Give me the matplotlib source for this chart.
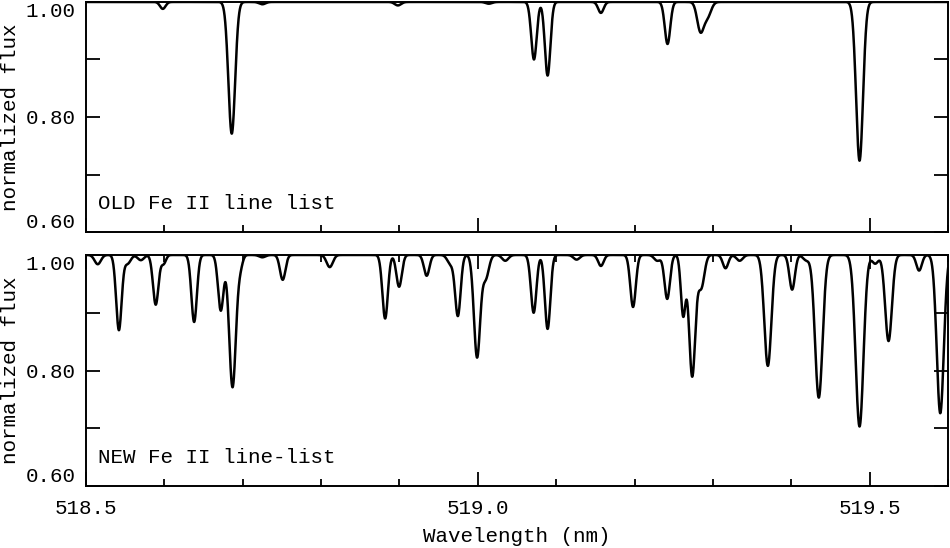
import numpy as np
import matplotlib
matplotlib.use('Agg')
import matplotlib.pyplot as plt
from matplotlib.ticker import MultipleLocator

# line lists: centre (nm), central depth, gaussian sigma (nm)
old_center = [518.598, 518.686, 518.725, 518.898, 519.014, 519.0716, 519.089,
              519.157, 519.242, 519.284, 519.293, 519.487]
old_depth = [0.012, 0.229, 0.004, 0.006, 0.003, 0.100, 0.128,
             0.019, 0.073, 0.050, 0.025, 0.276]
old_sigma = [0.0035, 0.0043, 0.004, 0.004, 0.004, 0.0035, 0.0035,
             0.0035, 0.0035, 0.0042, 0.0045, 0.0044]

new_center = [518.515, 518.542, 518.553, 518.570, 518.589, 518.599, 518.638,
              518.672, 518.687, 518.697, 518.725, 518.751, 518.811, 518.8817,
              518.8995, 518.9347, 518.965, 518.9745, 518.999, 519.010, 519.035,
              519.0712, 519.089, 519.126, 519.157, 519.198, 519.229, 519.2416,
              519.262, 519.2735, 519.285, 519.316, 519.334, 519.370, 519.401,
              519.419, 519.435, 519.487, 519.507, 519.524, 519.563, 519.590]
new_depth = [0.016, 0.130, 0.015, 0.009, 0.086, 0.015, 0.116,
             0.096, 0.229, 0.018, 0.004, 0.043, 0.021, 0.110,
             0.055, 0.036, 0.015, 0.105, 0.177, 0.040, 0.010,
             0.100, 0.128, 0.008, 0.019, 0.090, 0.010, 0.076,
             0.104, 0.210, 0.056, 0.023, 0.010, 0.192, 0.060,
             0.009, 0.247, 0.297, 0.015, 0.149, 0.027, 0.274]
new_sigma = [0.004, 0.0035, 0.004, 0.004, 0.0035, 0.003, 0.0035,
             0.0035, 0.0043, 0.003, 0.004, 0.0035, 0.004, 0.0035,
             0.0035, 0.0035, 0.004, 0.0035, 0.0040, 0.004, 0.004,
             0.0035, 0.0035, 0.004, 0.0035, 0.0035, 0.004, 0.0035,
             0.003, 0.0040, 0.004, 0.0035, 0.004, 0.0045, 0.0035,
             0.004, 0.0048, 0.0050, 0.004, 0.0043, 0.0035, 0.0045]

panel_labels = ['OLD Fe II line list', 'NEW Fe II line-list']
xtick_vals = [518.5, 519.0, 519.5]
xtick_text = ['518.5', '519.0', '519.5']
ytick_vals = [0.6, 0.7, 0.8, 0.9, 1.0]
ytick_text = ['0.60', '', '0.80', '', '1.00']


def spectrum(wl, centers, depths, sigmas):
    flux = np.ones_like(wl)
    for c, d, s in zip(centers, depths, sigmas):
        flux *= 1.0 - d * np.exp(-0.5 * ((wl - c) / s) ** 2)
    return flux


wl = np.linspace(518.5, 519.6, 4000)
fluxes = [spectrum(wl, old_center, old_depth, old_sigma),
          spectrum(wl, new_center, new_depth, new_sigma)]

plt.rcParams['font.family'] = ['Liberation Mono', 'DejaVu Sans Mono']
plt.rcParams['font.size'] = 15

fig = plt.figure(figsize=(9.5, 5.48), dpi=100)
boxes = [[0.0905, 0.5766, 0.9075, 0.4198], [0.0905, 0.1131, 0.9075, 0.4216]]

for i in range(2):
    ax = fig.add_axes(boxes[i])
    ax.plot(wl, fluxes[i], color='black', lw=1.8)
    ax.set_xlim(518.5, 519.6)
    ax.set_ylim(0.6, 1.0)
    ax.set_xticks(xtick_vals)
    ax.xaxis.set_minor_locator(MultipleLocator(0.1))
    ax.set_yticks(ytick_vals)
    ax.set_yticklabels(ytick_text)
    # the upper panel has no ticks along its top edge
    ax.tick_params(which='both', direction='in', top=(i == 1), right=True, width=1.3)
    ax.tick_params(which='major', length=10)
    ax.tick_params(which='minor', length=5)
    ax.tick_params(axis='y', pad=7.5)
    ax.tick_params(axis='x', pad=9)
    for sp in ax.spines.values():
        sp.set_linewidth(1.4)
    labs = ax.get_yticklabels()
    labs[0].set_verticalalignment('bottom')
    labs[-1].set_verticalalignment('top')
    ax.set_ylabel('normalized flux')
    ax.yaxis.set_label_coords(-0.077, 0.5)
    ax.text(0.014, 0.082, panel_labels[i], transform=ax.transAxes,
            ha='left', va='bottom')
    if i == 0:
        ax.set_xticklabels([])
    else:
        ax.set_xticklabels(xtick_text)
        ax.set_xlabel('Wavelength (nm)', labelpad=7)

fig.savefig('out.png', dpi=100)
